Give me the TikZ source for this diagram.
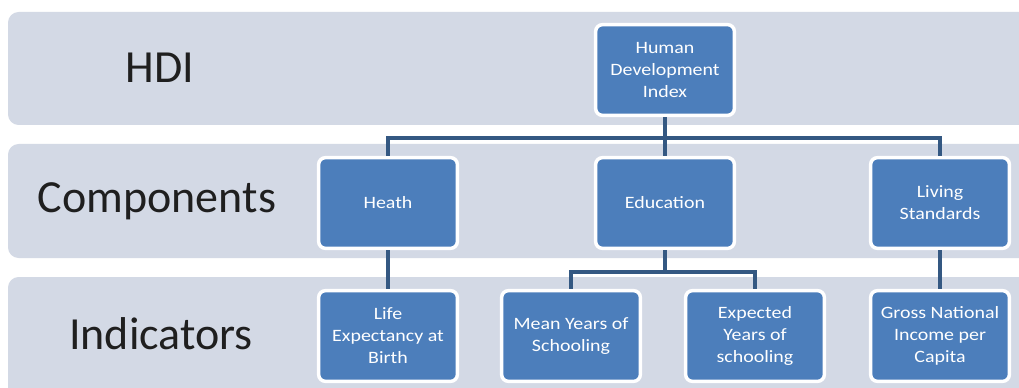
\documentclass[tikz,border=0pt]{standalone}
\usepackage{fontspec}
\setmainfont{Carlito}
\newfontfamily\boxfont[FakeStretch=1.15]{Carlito}
\usetikzlibrary{positioning}

\definecolor{bandgray}{RGB}{211,217,229}
\definecolor{boxblue}{RGB}{76,126,187}
\definecolor{linkblue}{RGB}{52,88,130}

\tikzset{
  band/.style={fill=bandgray, rounded corners=8pt},
  level/.style={font=\fontsize{34.5}{40}\selectfont, text=black!88},
  hdibox/.style={rectangle, rounded corners=5pt, fill=boxblue, draw=white,
    line width=2.6pt, minimum width=104pt, minimum height=68pt, inner sep=1pt,
    align=center, text=white, font=\boxfont\fontsize{13}{16.5}\selectfont},
  link/.style={draw=linkblue, line width=2.6pt}
}

\begin{document}
\begin{tikzpicture}[x=0.75pt, y=-0.75pt]
  \clip (0,0) rectangle (1019,388);
  \fill[white] (0,0) rectangle (1019,388);

  % the three levels
  \fill[band] (8,12) rectangle (1040,125);
  \fill[band] (8,144) rectangle (1040,258);
  \fill[band] (8,277) rectangle (1040,410);

  \node[level] (lhdi) at (160,68) {HDI};
  \node[level] (lcomp) at (157,201) {Components};
  \node[level] (lind) at (161,334) {Indicators};

  % boxes
  \node[hdibox] (hdi) at (665,70) {Human\\Development\\Index};

  \node[hdibox] (health) at (388,203) {Heath};
  \node[hdibox] (edu) at (665,203) {Education};
  \node[hdibox] (living) at (940,203) {Living\\Standards};

  \node[hdibox] (life) at (388,336) {Life\\Expectancy at\\Birth};
  \node[hdibox] (mean) at (571,336) {Mean Years of\\Schooling};
  \node[hdibox] (expect) at (755,336) {Expected\\Years of\\schooling};
  \node[hdibox] (gni) at (940,336) {Gross National\\Income per\\Capita};

  % connectors
  \draw[link] (hdi.south) -- ++(0,21) coordinate (bus) -| (health.north);
  \draw[link] (bus) -| (living.north);
  \draw[link] (hdi.south) -- (edu.north);

  \draw[link] (edu.south) -- ++(0,22) coordinate (ebus) -| (mean.north);
  \draw[link] (ebus) -| (expect.north);

  \draw[link] (health.south) -- (life.north);
  \draw[link] (living.south) -- (gni.north);
\end{tikzpicture}
\end{document}
